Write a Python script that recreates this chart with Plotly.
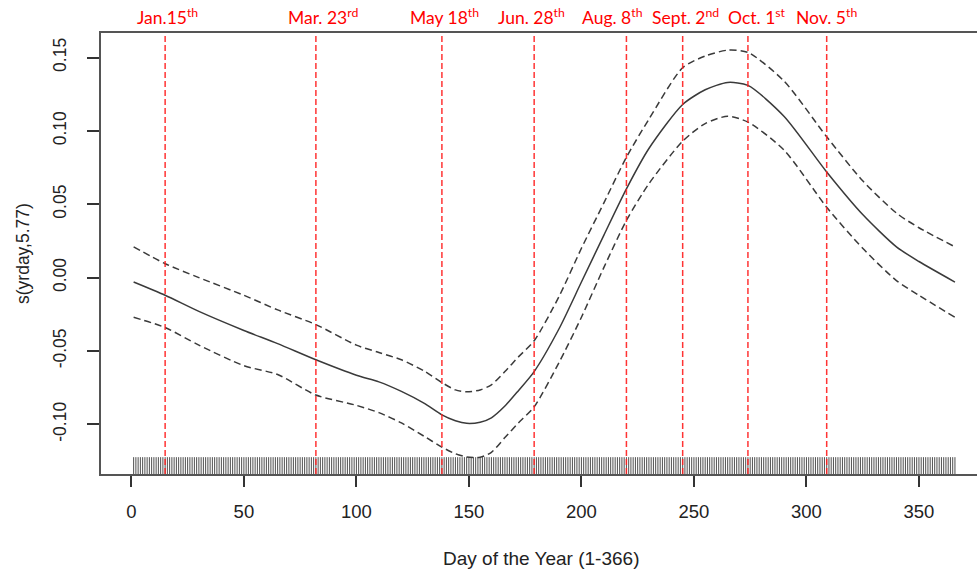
import plotly.graph_objects as go

# ---- data ----
fit_days = [1, 15, 30, 50, 65, 82, 100, 110, 120, 130, 138, 144, 149, 155, 160, 166, 172, 179, 190, 200, 210, 220, 230, 245, 255, 265, 274, 290, 309, 325, 340, 350, 366]
fit_val = [-0.003, -0.012, -0.023, -0.036, -0.045, -0.056, -0.0665, -0.071, -0.0775, -0.0855, -0.0935, -0.0975, -0.0993, -0.0985, -0.0955, -0.0875, -0.077, -0.064, -0.035, -0.003, 0.029, 0.0605, 0.088, 0.118, 0.128, 0.133, 0.131, 0.110, 0.072, 0.043, 0.021, 0.011, -0.003]
upper_val = [0.021, 0.0095, 0.000, -0.012, -0.022, -0.032, -0.046, -0.051, -0.056, -0.0635, -0.0715, -0.0765, -0.0778, -0.0765, -0.073, -0.064, -0.054, -0.043, -0.013, 0.020, 0.051, 0.082, 0.108, 0.143, 0.151, 0.155, 0.1535, 0.134, 0.096, 0.066, 0.044, 0.034, 0.021]
lower_val = [-0.027, -0.034, -0.046, -0.060, -0.066, -0.080, -0.087, -0.092, -0.099, -0.108, -0.1155, -0.1200, -0.1222, -0.1224, -0.119, -0.109, -0.099, -0.088, -0.058, -0.027, 0.007, 0.039, 0.064, 0.093, 0.105, 0.110, 0.106, 0.087, 0.048, 0.020, -0.002, -0.012, -0.027]

rug_days = list(range(1, 367))

event_days = [15, 82, 138, 179, 220, 245, 274, 309]
event_main = ["Jan.15", "Mar. 23", "May 18", "Jun. 28", "Aug. 8", "Sept. 2", "Oct. 1", "Nov. 5"]
event_sup = ["th", "rd", "th", "th", "th", "nd", "st", "th"]

x_ticks = [0, 50, 100, 150, 200, 250, 300, 350]
y_ticks = [-0.10, -0.05, 0.00, 0.05, 0.10, 0.15]
y_tick_text = ["-0.10", "-0.05", "0.00", "0.05", "0.10", "0.15"]

# ---- styling (not data) ----
label_xshift = [2, 7, 3, -3, -14, 3, 9, 0]
W, H = 977, 571
ML, MR, MT, MB = 101, 0, 33, 97
RUG_Y = -0.129
AX = "#333333"
FONT = "Liberation Sans, Arial, sans-serif"

fig = go.Figure()

fig.add_trace(go.Scatter(x=rug_days, y=[RUG_Y] * len(rug_days), mode="markers",
                         marker=dict(symbol="line-ns", size=14,
                                     line=dict(width=1, color="rgba(20,20,20,0.75)")),
                         hoverinfo="skip", showlegend=False))

for vals, dash in ((upper_val, "7px,4px"), (lower_val, "7px,4px"), (fit_val, "solid")):
    fig.add_trace(go.Scatter(x=fit_days, y=vals, mode="lines",
                             line=dict(color="#3a3a3a", width=1.5, dash=dash, shape="spline", smoothing=0.7),
                             hoverinfo="skip", showlegend=False))

for d, m, s, sh in zip(event_days, event_main, event_sup, label_xshift):
    fig.add_shape(type="line", xref="x", yref="paper", x0=d, x1=d, y0=0, y1=1,
                  line=dict(color="rgba(255,30,30,0.9)", width=1.5, dash="6px,3px"))
    fig.add_annotation(x=d, xref="x", y=(H - MB - 16) / (H - MT - MB), yref="paper",
                       text=f"{m}<sup>{s}</sup>", showarrow=False, xshift=sh,
                       xanchor="center", yanchor="middle",
                       font=dict(family="Lato, Open Sans, sans-serif", size=17.5, color="#ff0000"))

# axis titles
plot_w = W - ML - MR
plot_h = H - MT - MB
fig.add_annotation(x=(541 - ML) / plot_w, xref="paper", y=-(558 - (H - MB)) / plot_h, yref="paper",
                   text="Day of the Year (1-366)", showarrow=False, xanchor="center", yanchor="middle",
                   font=dict(family=FONT, size=19, color="#222222"))
fig.add_annotation(x=-(ML - 23) / plot_w, xref="paper", y=(H - MB - 254) / plot_h, yref="paper",
                   text="s(yrday,5.77)", showarrow=False, textangle=-90, xanchor="center", yanchor="middle",
                   font=dict(family=FONT, size=17.5, color="#222222"))

fig.update_layout(
    width=W, height=H, margin=dict(l=ML, r=MR, t=MT, b=MB),
    paper_bgcolor="white", plot_bgcolor="white",
    xaxis=dict(range=[-13.5, 375.8], tickvals=x_ticks, ticks="outside", ticklen=11, tickwidth=1.5,
               tickcolor=AX, showline=True, linecolor="#555555", linewidth=2, mirror=True,
               showgrid=False, zeroline=False, ticklabelstandoff=9,
               tickfont=dict(family=FONT, size=18.5, color="#222222")),
    yaxis=dict(range=[-0.1338, 0.1667], tickvals=y_ticks, ticktext=y_tick_text, ticks="outside",
               ticklen=12, tickwidth=1.5, tickcolor=AX, showline=True, linecolor="#555555", linewidth=2,
               mirror=False, showgrid=False, zeroline=False, tickangle=-90, ticklabelstandoff=14,
               tickfont=dict(family=FONT, size=17.5, color="#222222")),
)

fig.write_html("out.html")
